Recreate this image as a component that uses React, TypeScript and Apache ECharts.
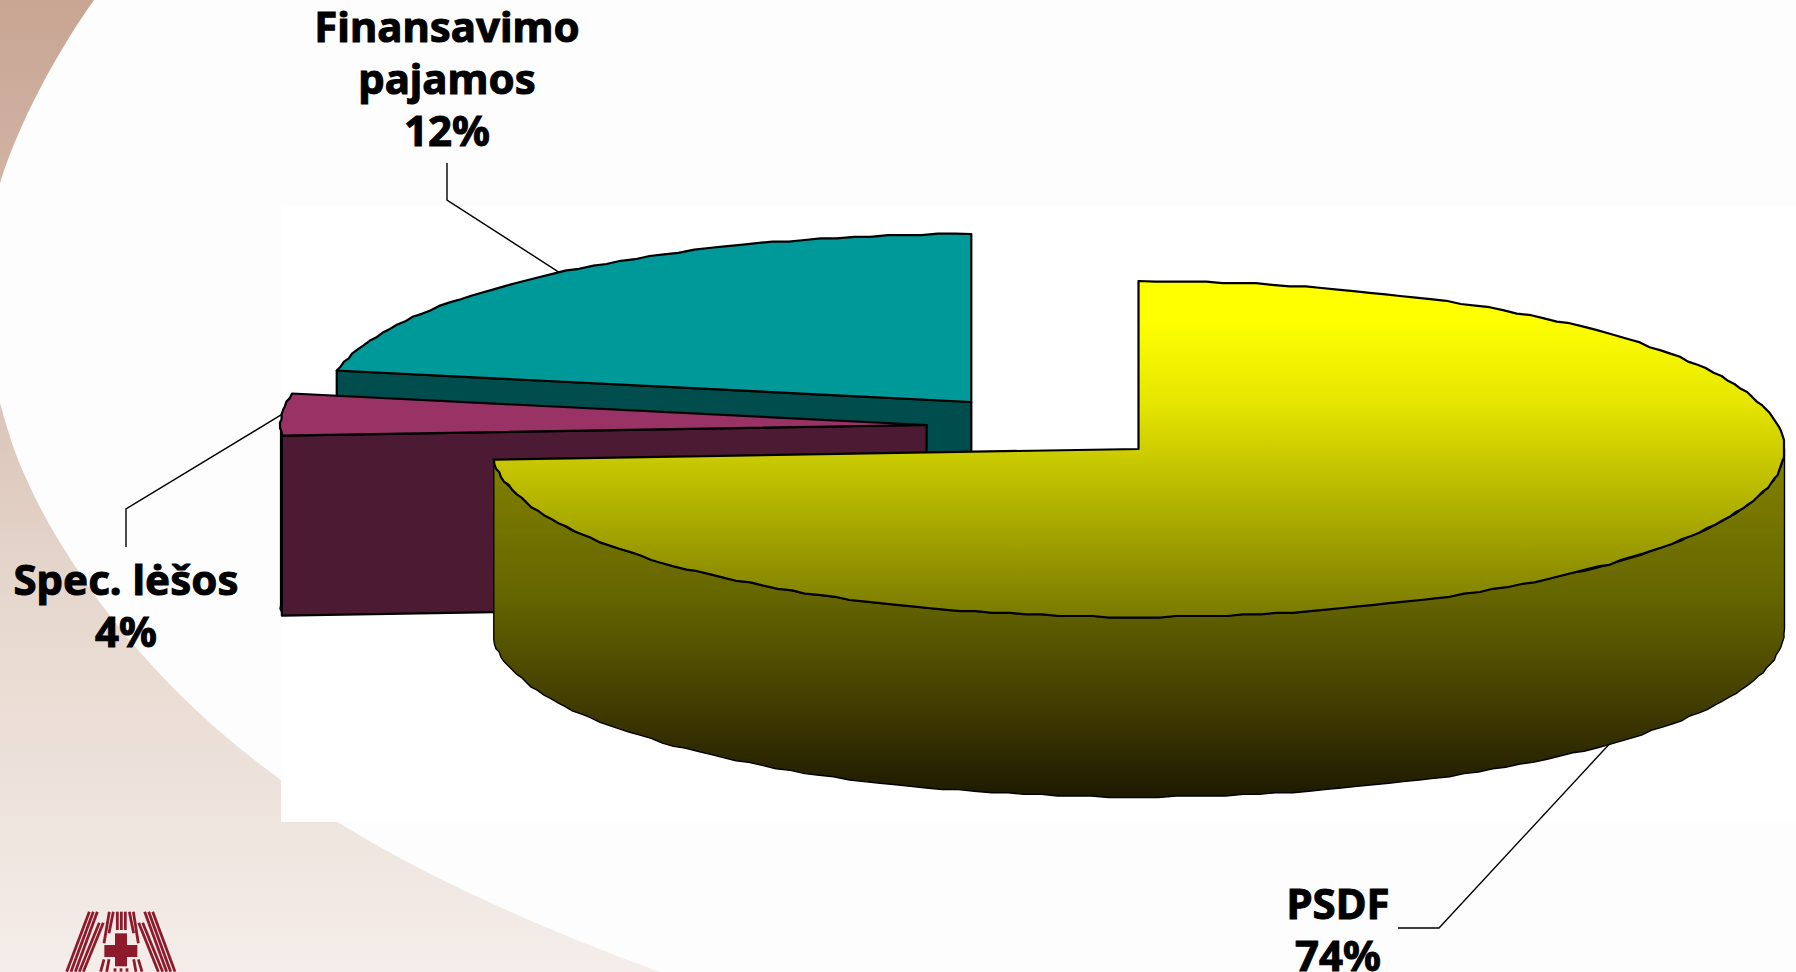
import React, { useEffect, useRef } from "react";
import * as echarts from "echarts";

// ---- data ----
const categories = ["PSDF", "Spec. lėšos", "Finansavimo\npajamos"];
// share of the full turn that each drawn slice sweeps
const sliceShares = [74, 4, 22];
// percentages printed in the labels
const shownPercents = ["74%", "4%", "12%"];

// ---- styles and layout ----
const W = 1796;
const H = 972;
const RX = 646;
const RY = 168;
const DEPTH = 180;
const SNAP = 1.6; // the reference's outlines are slightly stepped
const centers = [
  [1138.5, 449],
  [926.6, 425],
  [971.3, 402],
];
const labelCenters = [
  [1338, 928],
  [126, 604],
  [447, 77],
];
const leaderStarts = [
  [[1398, 928], [1439, 928]],
  [[126, 547], [126, 509]],
  [[447, 163], [447, 200]],
];
const LINE_H = 52;

const grad = (y1: number, y2: number, stops: [number, string][]) => ({
  type: "linear",
  global: true,
  x: 0,
  y: y1,
  x2: 0,
  y2,
  colorStops: stops.map(([offset, color]) => ({ offset, color })),
});

const topFills: any[] = [
  grad(280, 616, [
    [0, "#ffff00"],
    [0.12, "#ffff00"],
    [0.36, "#e6e600"],
    [0.55, "#c6c600"],
    [1, "#7a7a00"],
  ]),
  "#993366",
  "#009999",
];
const sideFills: any[] = [
  grad(461, 796, [
    [0, "#808000"],
    [0.4, "#666600"],
    [0.7, "#454000"],
    [1, "#1e1a00"],
  ]),
  "#4d1a33",
  "#004d4d",
];

const rad = (d: number) => (d * Math.PI) / 180;
const snap = (v: number) => Math.round(v / SNAP) * SNAP;

function arcPoints(c: number[], from: number, to: number, dy: number) {
  const pts: number[][] = [];
  const n = Math.max(2, Math.ceil(Math.abs(to - from) / 1.5));
  for (let i = 0; i <= n; i++) {
    const a = rad(from + ((to - from) * i) / n);
    const x = c[0] + RX * Math.sin(a);
    const y = c[1] - RY * Math.cos(a);
    const inner = i > 0 && i < n;
    pts.push(inner ? [snap(x), snap(y) + dy] : [x, y + dy]);
  }
  return pts;
}

function renderSlice(params: any, api: any) {
  const i = params.dataIndex;
  const before = sliceShares.slice(0, i).reduce((a, b) => a + b, 0);
  const start = (before / 100) * 360;
  const end = start + (api.value(0) / 100) * 360;
  const c = centers[i];
  const z2 = (3 - i) * 10;
  const children: any[] = [];

  // cut face on the starting edge, when it turns toward the viewer
  if (Math.sin(rad(start)) < -1e-6) {
    const o = arcPoints(c, start, start + 1, 0)[0];
    children.push({
      type: "polygon",
      z2,
      shape: { points: [c, o, [o[0], o[1] + DEPTH], [c[0], c[1] + DEPTH]] },
      style: { fill: sideFills[i], stroke: "#000", lineWidth: 2.2, lineJoin: "round" },
    });
  }

  // outer rim, front half only
  const rimFrom = Math.max(start, 90);
  const rimTo = Math.min(end, 270);
  if (rimTo > rimFrom) {
    const upper = arcPoints(c, rimFrom, rimTo, 0);
    const lower = arcPoints(c, rimFrom, rimTo, DEPTH);
    children.push({
      type: "polygon",
      z2: z2 + 1,
      shape: { points: [...upper, ...lower.slice().reverse()] },
      style: { fill: sideFills[i], stroke: "#000", lineWidth: 1.4, lineJoin: "round" },
    });
  }

  // the top face
  children.push({
    type: "polygon",
    z2: z2 + 2,
    shape: { points: [c, ...arcPoints(c, start, end, 0)] },
    style: { fill: topFills[i], stroke: "#000", lineWidth: 2.2, lineJoin: "round" },
  });

  // leader line, ending on the middle of the slice's outer edge
  const mid = rad((start + end) / 2);
  const onFront = Math.cos(mid) < 0;
  const tip = [
    c[0] + RX * Math.sin(mid),
    c[1] - RY * Math.cos(mid) + (onFront ? DEPTH : 0),
  ];
  children.push({
    type: "polyline",
    z2: 60,
    shape: { points: [...leaderStarts[i], tip] },
    style: { fill: null, stroke: "#000", lineWidth: 1.4 },
  });

  // label
  children.push({
    type: "text",
    z2: 61,
    style: {
      x: labelCenters[i][0],
      y: labelCenters[i][1],
      text: `${categories[i]}\n${shownPercents[i]}`,
      fill: "#000",
      stroke: "#000",
      lineWidth: 1,
      font: 'bold 42px "Noto Sans"',
      lineHeight: LINE_H,
      align: "center",
      verticalAlign: "middle",
    },
  });

  return { type: "group", children };
}

const swooshPath =
  "M94 0 C55 55 18 125 0 183 C-14 250 -14 330 0 403 C8 432 16 458 27 480 C40 510 55 535 71 560 C95 598 120 630 147 660 C188 706 233 745 281 780 C300 795 320 810 339 823 C388 853 440 880 491 903 C545 928 600 950 660 972 L1796 972 L1796 0 Z";

const logoStripes = [
  [148, 65, 80, 245], [160, 65, 93, 245], [172, 65, 106, 245],
  [178, 98, 118, 245], [190, 98, 130, 245],
  [208, 65, 192, 160], [220, 65, 207, 130], [232, 65, 232, 120],
  [244, 65, 244, 120], [256, 65, 256, 120], [268, 65, 281, 130], [280, 65, 295, 160],
  [338, 65, 405, 245], [326, 65, 392, 245], [314, 65, 380, 245],
  [308, 98, 368, 245], [296, 98, 355, 245],
  [192, 208, 182, 245], [207, 208, 200, 245], [281, 208, 288, 245], [295, 208, 306, 245],
  [225, 235, 225, 245], [243, 235, 243, 245], [261, 235, 261, 245],
];
const LOGO_RED = "#8e1b2c";

export default function App() {
  const ref = useRef<HTMLDivElement>(null);
  useEffect(() => {
    document.body.style.margin = "0";
    document.body.style.overflow = "hidden";
    const chart = echarts.init(ref.current!, null, { renderer: "svg" });
    echarts.graphic.registerShape("swoosh", echarts.graphic.extendPath(swooshPath, {}));
    const logoX = (v: number) => 40 + v / 3;
    const logoY = (v: number) => 890 + v / 3;
    chart.setOption({
      animation: false,
      backgroundColor: "#fff",
      graphic: [
        {
          type: "rect",
          z: 0,
          shape: { x: 0, y: 0, width: W, height: H },
          style: {
            fill: grad(0, 972, [
              [0, "#c8a593"],
              [0.42, "#dcc5b9"],
              [0.62, "#e6d8ce"],
              [1, "#f4ede9"],
            ]),
          },
        },
        { type: "swoosh", z: 0, x: 0, y: 0, style: { fill: "#fdfdfd" } },
        {
          type: "rect",
          z: 0,
          shape: { x: 281, y: 207, width: W - 281, height: 615 },
          style: { fill: "#ffffff" },
        },
        ...logoStripes.map((s) => ({
          type: "line",
          z: 0,
          shape: { x1: logoX(s[0]), y1: logoY(s[1]), x2: logoX(s[2]), y2: logoY(s[3]) },
          style: { stroke: LOGO_RED, lineWidth: 2.8 },
        })),
        {
          type: "rect",
          z: 0,
          shape: { x: logoX(193), y: logoY(165), width: 33, height: 12 },
          style: { fill: LOGO_RED },
        },
        {
          type: "rect",
          z: 0,
          shape: { x: logoX(225), y: logoY(130), width: 12, height: 33 },
          style: { fill: LOGO_RED },
        },
      ],
      series: [
        {
          type: "custom",
          coordinateSystem: "none",
          renderItem: renderSlice,
          data: sliceShares.map((v) => [v]),
          silent: true,
          clip: false,
        },
      ],
    });
    return () => chart.dispose();
  }, []);
  return <div ref={ref} style={{ position: "fixed", left: 0, top: 0, width: W, height: H }} />;
}
